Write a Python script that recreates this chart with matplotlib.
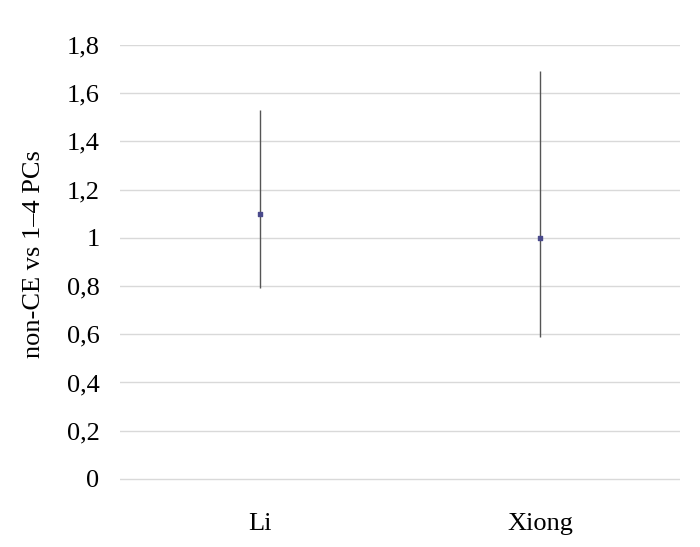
import matplotlib.pyplot as plt

studies = ["Li", "Xiong"]
estimate = [1.10, 1.00]
lower = [0.79, 0.59]
upper = [1.53, 1.69]

plt.rcParams['font.family'] = ['Liberation Serif', 'DejaVu Serif']

fig, ax = plt.subplots(figsize=(7, 5.47), dpi=100)
fig.subplots_adjust(left=0.172, right=0.972, top=0.918, bottom=0.12)

x = [i + 0.5 for i in range(len(studies))]
for xi, est, lo, hi in zip(x, estimate, lower, upper):
    ax.vlines(xi, lo, hi, color='#555555', linewidth=1.0, zorder=3)
ax.scatter(x, estimate, marker='s', s=9, color='#4a4a8c', zorder=4)

ax.set_xlim(0, len(studies))
ax.set_ylim(-0.01, 1.8)
ax.set_yticks([i * 0.2 for i in range(10)])
ax.set_yticklabels(['0', '0,2', '0,4', '0,6', '0,8', '1', '1,2', '1,4', '1,6', '1,8'])
ax.set_xticks(x)
ax.set_xticklabels(studies)
ax.tick_params(axis='both', length=0, labelsize=19)
ax.tick_params(axis='y', pad=15)
ax.tick_params(axis='x', pad=23)
ax.grid(axis='y', color='#d9d9d9', linewidth=1)
ax.set_axisbelow(True)
for s in ax.spines.values():
    s.set_visible(False)
ax.set_ylabel('non-CE vs 1–4 PCs', fontsize=19)
ax.yaxis.set_label_coords(-0.135, 0.52)

fig.savefig('out.png')
